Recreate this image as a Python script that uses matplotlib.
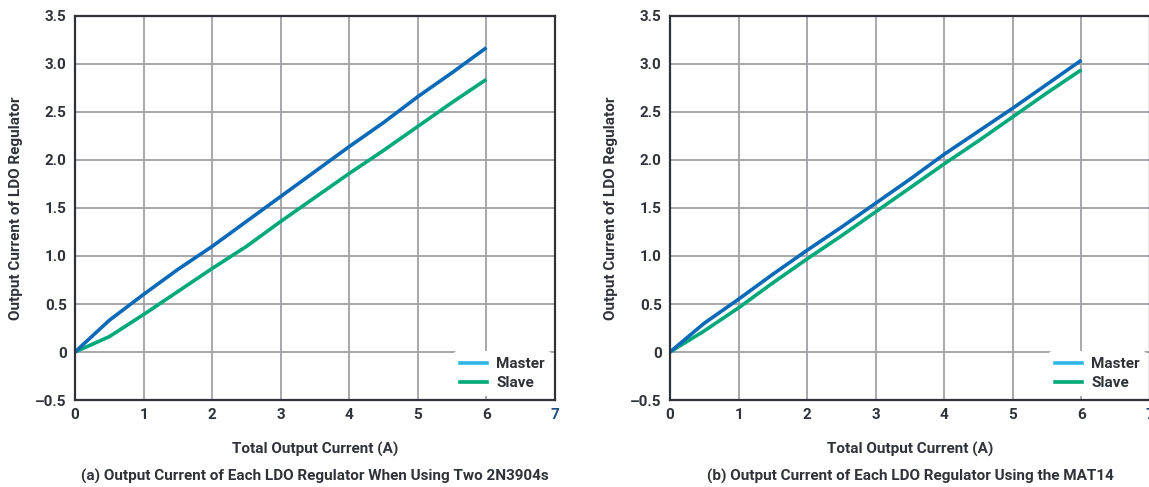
import numpy as np
import matplotlib
matplotlib.use("Agg")
import matplotlib.pyplot as plt
from matplotlib.lines import Line2D

plt.rcParams['font.family'] = ['Roboto', 'DejaVu Sans']
plt.rcParams['font.weight'] = 'bold'

# data
current = [0, 0.5, 1, 1.5, 2, 2.5, 3, 3.5, 4, 4.5, 5, 5.5, 6]
master_a = [0, 0.33, 0.60, 0.86, 1.10, 1.36, 1.62, 1.88, 2.14, 2.39, 2.66, 2.91, 3.17]
slave_a = [0, 0.16, 0.39, 0.63, 0.87, 1.10, 1.36, 1.61, 1.86, 2.10, 2.35, 2.60, 2.84]
master_b = [0, 0.30, 0.55, 0.81, 1.06, 1.30, 1.55, 1.80, 2.06, 2.30, 2.54, 2.79, 3.04]
slave_b = [0, 0.22, 0.46, 0.72, 0.97, 1.21, 1.46, 1.71, 1.96, 2.20, 2.45, 2.70, 2.94]

x_ticks = [0, 1, 2, 3, 4, 5, 6, 7]
y_ticks = [-0.5, 0, 0.5, 1.0, 1.5, 2.0, 2.5, 3.0, 3.5]
y_labels = ['\u20130.5', '0', '0.5', '1.0', '1.5', '2.0', '2.5', '3.0', '3.5']
captions = ['(a) Output Current of Each LDO Regulator When Using Two 2N3904s',
            '(b) Output Current of Each LDO Regulator Using the MAT14']

MASTER = '#0a6ab8'
MASTER_LEG = '#2cb8ea'
SLAVE = '#00a87a'
TEXT = '#2f3238'
GRID = '#a0a0a6'

fig = plt.figure(figsize=(11.49, 4.87), dpi=100)
lefts = [75 / 1149, 670 / 1149]
w = 480 / 1149
b = 1 - 400 / 487
h = 384 / 487

for i, (m, s) in enumerate([(master_a, slave_a), (master_b, slave_b)]):
    ax = fig.add_axes([lefts[i], b, w, h])
    ax.set_xlim(0, 7)
    ax.set_ylim(-0.5, 3.5)
    ax.set_xticks(x_ticks)
    ax.set_yticks(y_ticks)
    ax.set_yticklabels(y_labels)
    ax.grid(True, color=GRID, linewidth=1.3)
    ax.set_axisbelow(True)
    ax.tick_params(length=0, labelsize=11, colors=TEXT, pad=6)
    ax.get_xticklabels()[-1].set_color('#1f4f80')
    for sp in ax.spines.values():
        sp.set_color(TEXT)
        sp.set_linewidth(1.6)

    ax.plot(current, s, color=SLAVE, linewidth=2.6, solid_capstyle='butt')
    ax.plot(current, m, color=MASTER, linewidth=2.6, solid_capstyle='butt')

    handles = [Line2D([], [], color=MASTER_LEG, linewidth=2.6),
               Line2D([], [], color=SLAVE, linewidth=2.6)]
    leg = ax.legend(handles, ['Master', 'Slave'], loc='lower right',
                    frameon=True, facecolor='white', edgecolor='none',
                    framealpha=1, fontsize=11, handlelength=1.8,
                    labelspacing=0.3, borderaxespad=0.25, handletextpad=0.6)
    for t in leg.get_texts():
        t.set_color(TEXT)

    ax.set_xlabel('Total Output Current (A)', fontsize=11, color=TEXT,
                  fontweight='bold', labelpad=14)
    ax.set_ylabel('Output Current of LDO Regulator', fontsize=11,
                  color=TEXT, fontweight='bold', labelpad=9)
    ax.text(0.5, -0.2, captions[i], transform=ax.transAxes, ha='center',
            va='center', fontsize=11, color=TEXT, fontweight='bold')

fig.savefig('out.png', dpi=100)
